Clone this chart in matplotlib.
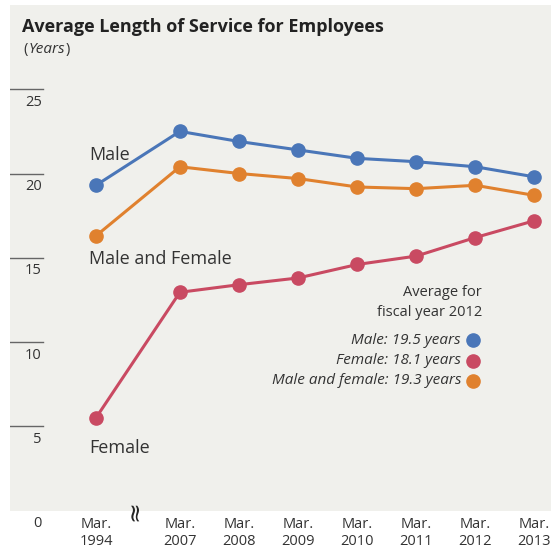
import matplotlib
matplotlib.use('Agg')
import matplotlib.pyplot as plt

plt.rcParams['font.family'] = ['Open Sans', 'DejaVu Sans']

# Data
years = ['1994', '2007', '2008', '2009', '2010', '2011', '2012', '2013']
male = [19.3, 22.5, 21.9, 21.4, 20.9, 20.7, 20.4, 19.8]
both = [16.3, 20.4, 20.0, 19.7, 19.2, 19.1, 19.3, 18.7]
female = [5.5, 12.95, 13.4, 13.8, 14.6, 15.1, 16.2, 17.2]
yticks = [5, 10, 15, 20, 25]
fy_avg = {'Male': 19.5, 'Female': 18.1, 'Male and female': 19.3}

# x positions: gap between 1994 and 2007 is a bit wider
xpos = [0] + [1.42 + i for i in range(len(years) - 1)]

c_male = '#4a76b8'
c_both = '#e0812e'
c_female = '#c94a62'
bg = '#f0f0ec'
txt = '#333333'

fig = plt.figure(figsize=(5.51, 5.52), dpi=100)
ax = fig.add_axes([10 / 551, 41.5 / 552, 541 / 551, 505.5 / 552])
ax.set_facecolor(bg)
ax.set_xlim(-1.455, 7.70)
ax.set_ylim(0, 30)
for s in ax.spines.values():
    s.set_visible(False)
ax.set_xticks([])
ax.set_yticks([])

# short tick lines with labels underneath
ytr = ax.get_yaxis_transform()
for v in yticks:
    ax.plot([0, 0.061], [v, v], color='#666666', lw=1.0, transform=ytr)
    ax.annotate(str(v), xy=(0.059, v), xycoords=ytr, xytext=(0, -4),
                textcoords='offset points', ha='right', va='top',
                fontsize=10.5, color=txt)
ax.annotate('0', xy=(0.059, 0), xycoords=ytr, xytext=(0, -4),
            textcoords='offset points', ha='right', va='top',
            fontsize=10.5, color=txt, annotation_clip=False)

for vals, col in [(male, c_male), (both, c_both), (female, c_female)]:
    ax.plot(xpos, vals, color=col, lw=2.2, marker='o', ms=9.5,
            solid_capstyle='round', clip_on=False, zorder=3)

# x tick labels below the panel
xtr = ax.get_xaxis_transform()
for x, y in zip(xpos, years):
    ax.annotate('Mar.\n' + y, xy=(x, 0), xycoords=xtr, xytext=(0, -5),
                textcoords='offset points', ha='center', va='top',
                fontsize=10.5, color=txt, linespacing=1.15,
                annotation_clip=False)

# axis break mark (two wavy strokes)
ax.text(0.66, 0.0, '\u2248', transform=xtr, ha='center', va='center',
        fontsize=18, color='#222222', rotation=90, rotation_mode='anchor',
        family='DejaVu Sans', clip_on=False)

# series labels
lab = dict(fontsize=13, color=txt, ha='left', va='center')
ax.text(-0.12, 21.1, 'Male', **lab)
ax.text(-0.12, 14.9, 'Male and Female', **lab)
ax.text(-0.12, 3.7, 'Female', **lab)

# title
fig.text(22 / 551, 1 - 27 / 552, 'Average Length of Service for Employees',
         fontsize=13, fontweight='bold', color='#222222', ha='left', va='center')
fig.text(23 / 551, 1 - 49 / 552, '(', fontsize=10.5, color=txt,
         ha='left', va='center')
fig.text(29 / 551, 1 - 49 / 552, 'Years', fontsize=11, color=txt,
         ha='left', va='center', style='italic')
fig.text(66 / 551, 1 - 49 / 552, ')', fontsize=10.5, color=txt,
         ha='left', va='center')

# fiscal year averages
lx = 461 / 551
fig.text(482 / 551, 1 - 292 / 552, 'Average for', fontsize=10.5, color=txt,
         ha='right', va='center')
fig.text(482 / 551, 1 - 312 / 552, 'fiscal year 2012', fontsize=10.5,
         color=txt, ha='right', va='center')
for i, ((name, v), col) in enumerate(zip(fy_avg.items(), [c_male, c_female, c_both])):
    yy = 1 - (340 + 20.5 * i) / 552
    fig.text(lx, yy, f'{name}: {v} years', fontsize=11, color=txt,
             style='italic', ha='right', va='center')
    fig.lines.append(plt.Line2D([473 / 551], [yy], marker='o', ms=9.5,
                                color=col, transform=fig.transFigure,
                                figure=fig))

fig.savefig('out.png', dpi=100, facecolor='white')
